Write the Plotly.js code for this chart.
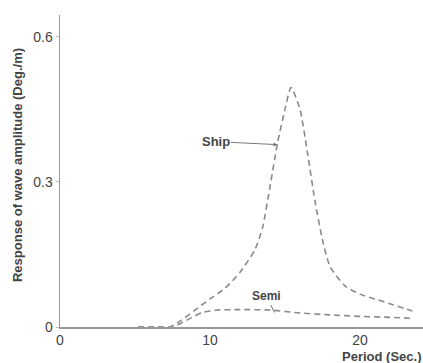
<!DOCTYPE html>
<html>
<head>
<meta charset="utf-8">
<script src="https://cdn.plot.ly/plotly-3.0.1.min.js"></script>
<style>html,body{margin:0;padding:0;background:#fff;}#chart{width:423px;height:363px;}</style>
</head>
<body>
<div id="chart"></div>
<script>
const shipPeriod = [5.2, 6.5, 7.3, 8, 9, 10, 11, 12, 13, 13.5, 14, 14.5, 15, 15.4, 16, 16.5, 17, 17.5, 18, 19, 20, 21, 22, 23, 23.5];
const shipResp   = [0, 0, 0, 0.012, 0.035, 0.058, 0.08, 0.113, 0.16, 0.205, 0.29, 0.38, 0.45, 0.495, 0.45, 0.36, 0.26, 0.18, 0.125, 0.085, 0.068, 0.058, 0.048, 0.038, 0.033];
const semiPeriod = [5.2, 6.5, 7.5, 8.5, 9.5, 10.5, 12, 14, 16, 18, 20, 22, 23.5];
const semiResp   = [0, 0, 0, 0.015, 0.03, 0.035, 0.036, 0.035, 0.029, 0.025, 0.022, 0.02, 0.018];
const xTicks = [0, 10, 20];
const yTicks = [0, 0.3, 0.6];
const yTickText = ['0', '0.3', '0.6'];

const lineStyle = {color: '#8a8a8a', width: 1.6, dash: '6px,4px', shape: 'spline', smoothing: 0.6};
const data = [
  {x: shipPeriod, y: shipResp, mode: 'lines', line: lineStyle, name: 'Ship', hoverinfo: 'none'},
  {x: semiPeriod, y: semiResp, mode: 'lines', line: lineStyle, name: 'Semi', hoverinfo: 'none'}
];
const font = {family: 'Liberation Sans, Arial, sans-serif', color: '#444'};
const layout = {
  width: 423, height: 363,
  margin: {l: 60, r: 0, t: 15, b: 36},
  showlegend: false,
  paper_bgcolor: '#fff', plot_bgcolor: '#fff',
  font: Object.assign({size: 12}, font),
  xaxis: {
    range: [0, 24.2], tickvals: xTicks, ticktext: xTicks.map(String),
    showgrid: false, zeroline: false, showline: true, linecolor: '#999', linewidth: 1.5,
    ticks: '', tickfont: Object.assign({size: 14}, font)
  },
  yaxis: {
    range: [0, 0.645], tickvals: yTicks, ticktext: yTickText,
    showgrid: false, zeroline: false, showline: true, linecolor: '#999', linewidth: 1.5,
    ticks: 'outside', ticklen: 3, tickcolor: '#bbb', tickfont: Object.assign({size: 14}, font)
  },
  annotations: [
    {x: 14.5, y: 0.377, xref: 'x', yref: 'y', text: '<b>Ship</b>', showarrow: true,
     arrowhead: 2, arrowsize: 0.8, arrowwidth: 1, arrowcolor: '#777', ax: -62, ay: -3,
     font: Object.assign({size: 13}, font)},
    {x: 14.3, y: 0.03, xref: 'x', yref: 'y', text: '<b>Semi</b>', showarrow: true,
     arrowhead: 0, arrowwidth: 1, arrowcolor: '#777', ax: -8, ay: -16,
     font: Object.assign({size: 12}, font)},
    {x: 1, y: -0.065, xref: 'paper', yref: 'paper', xanchor: 'right', yanchor: 'top',
     text: '<b>Period (Sec.)</b>', showarrow: false, font: Object.assign({size: 13}, font)},
    {x: -0.115, y: 0.52, xref: 'paper', yref: 'paper', textangle: -90, xanchor: 'center', yanchor: 'middle',
     text: '<b>Response of wave amplitude (Deg./m)</b>', showarrow: false, font: Object.assign({size: 13}, font)}
  ]
};
Plotly.newPlot('chart', data, layout, {displayModeBar: false, staticPlot: true});
</script>
</body>
</html>
